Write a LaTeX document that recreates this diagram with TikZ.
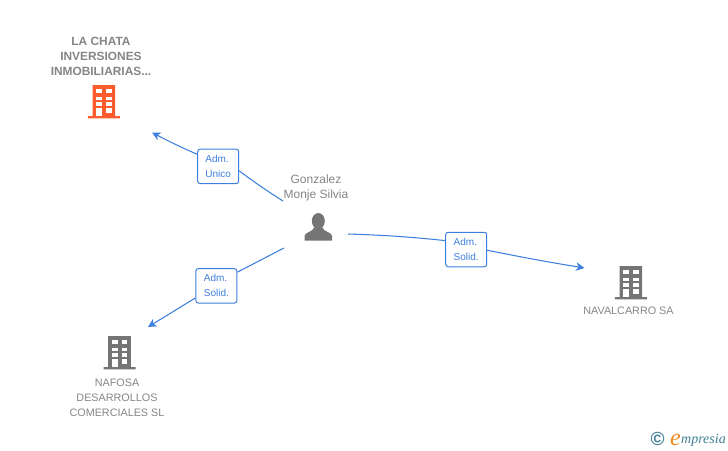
\documentclass[tikz,border=0pt]{standalone}
\usepackage{fontspec}
\setmainfont{Liberation Sans}
\newfontfamily\logofont{Liberation Serif}
\usetikzlibrary{arrows.meta}
\definecolor{linkblue}{HTML}{3C7FDC}
\definecolor{labelgrey}{HTML}{858585}
\definecolor{icongrey}{HTML}{757575}
\definecolor{iconorange}{HTML}{FF5C2E}
\definecolor{logoteal}{HTML}{3F7F95}
\definecolor{logoorange}{HTML}{F08A1D}
\tikzset{
    owner/.style={inner sep=0pt,align=center,text=labelgrey,font=\fontsize{10.8}{15}\selectfont},
    person/.style={owner,font=\fontsize{12}{15}\selectfont},
    mainowner/.style={owner,font=\fontsize{11.9}{15}\selectfont\bfseries},
    role/.style={draw=linkblue,fill=white,rounded corners=2.5pt,line width=1pt,align=left,
        text=linkblue,font=\fontsize{10}{15}\selectfont,inner sep=0pt,minimum width=41pt,minimum height=34.5pt},
    link/.style={draw=linkblue,line width=1.05pt},
    linkend/.style={link,-{Stealth[length=8.5pt,width=8.5pt,inset=2.5pt]}},
    pics/buildingicon/.style={code={
        \fill[pic actions] (-11.3,0) rectangle (11.3,31) (-16,31) rectangle (16,33.3);
        \foreach \colx in {-7.5,2.3}
            \foreach \rowy/\rowh in {4/4.3,11.7/3.4,17.3/3.7,23/4.6}
                \fill[white] (\colx,\rowy) rectangle ++(5.5,\rowh);
        \fill[white] (-7.5,25) rectangle (-2,31);
    }},
    pics/personicon/.style={code={
        \fill[pic actions] (0,7.7) ellipse (6.5pt and 8pt);
        \fill[pic actions] (-13.7,27.4) -- (-13.7,22.5) .. controls (-13.7,19) and (-5,18.5) .. (-4,14)
            -- (4,14) .. controls (5,18.5) and (13.7,19) .. (13.7,22.5) -- (13.7,27.4) -- cycle;
    }}
}
\begin{document}
\begin{tikzpicture}[x=1pt,y=-1pt]
    \useasboundingbox (0,0) rectangle (728,450);
    % icons
    \pic[fill=iconorange] at (103.8,85) {buildingicon};
    \pic[fill=icongrey] at (119.5,336) {buildingicon};
    \pic[fill=icongrey] at (630.8,266) {buildingicon};
    \pic[fill=icongrey] at (318.3,213.3) {personicon};
    % names
    \node[mainowner] (lachata) at (101,56) {LA CHATA\\INVERSIONES\\INMOBILIARIAS...};
    \node[person] (gonzalez) at (316,188) {Gonzalez\\Monje Silvia};
    \node[owner] (nafosa) at (117,397.5) {NAFOSA\\DESARROLLOS\\COMERCIALES SL};
    \node[owner] (navalcarro) at (628.5,311) {NAVALCARRO SA};
    % role boxes
    \node[role] (admunico) at (218.2,166.4) {Adm.\\Unico};
    \node[role] (admsolidb) at (216.4,285.8) {Adm.\\Solid.};
    \node[role] (admsolidr) at (466.2,249.5) {Adm.\\Solid.};
    % free ends
    \coordinate (fromup) at (283,201);
    \coordinate (fromdown) at (284,248);
    \coordinate (fromright) at (348,234);
    \coordinate (toup) at (152,132.5);
    \coordinate (todown) at (148,327);
    \coordinate (toright) at (584.5,268);
    % connectors
    \draw[link] (fromup) to[bend left=2] (admunico.-12);
    \draw[linkend] (admunico.150) to[bend left=2] (toup);
    \draw[link] (fromdown) -- (admsolidb.33);
    \draw[linkend] (admsolidb.210) -- (todown);
    \draw[link] (fromright) to[bend left=2] (admsolidr.157);
    \draw[linkend] (admsolidr.-2) to[bend right=1] (toright);
    % logo
    \node[inner sep=0pt,text=logoteal,font=\fontsize{19}{19}\selectfont\bfseries] (copysign) at (657.7,438.5) {©};
    \node[inner sep=0pt,anchor=base west,text=logoorange,font=\logofont\itshape\fontsize{24}{24}\selectfont] (logoe) at (670,445) {e};
    \node[inner sep=0pt,anchor=base west,text=logoteal,font=\logofont\itshape\fontsize{14}{14}\selectfont] (logoname) at (681,443) {mpresia};
\end{tikzpicture}
\end{document}
